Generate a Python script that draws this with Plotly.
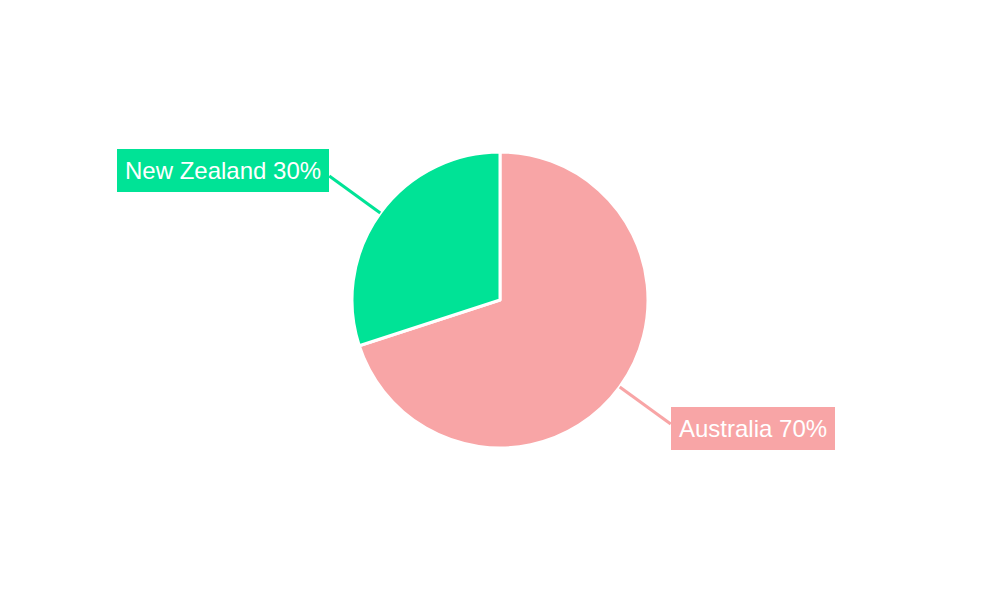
import math
import plotly.graph_objects as go

countries = ["Australia", "New Zealand"]
shares = [70, 30]
colors = ["#F8A5A6", "#00E396"]

W, H = 1000, 600
CX, CY, R = 500, 300, 148
R_OUT = 211

fig = go.Figure(go.Pie(
    labels=countries,
    values=shares,
    sort=False,
    direction="clockwise",
    rotation=0,
    marker=dict(colors=colors, line=dict(color="white", width=3)),
    textinfo="none",
    hoverinfo="label+percent",
    domain=dict(x=[0, 1], y=[0.5 - R / H, 0.5 + R / H]),
    showlegend=False,
))

total = sum(shares)
cum = 0
shapes, annotations = [], []
for name, v, c in zip(countries, shares, colors):
    mid = (cum + v / 2) / total * 2 * math.pi
    cum += v
    sx, sy = math.sin(mid), -math.cos(mid)
    hx, hy = CX + R * sx, CY + R * sy
    tx, ty = CX + R_OUT * sx, CY + R_OUT * sy
    shapes.append(dict(type="line", xref="paper", yref="paper",
                       x0=hx / W, y0=1 - hy / H, x1=tx / W, y1=1 - ty / H,
                       line=dict(color=c, width=3)))
    right = sx >= 0
    pct = round(v / total * 100)
    annotations.append(dict(
        xref="paper", yref="paper", x=tx / W, y=1 - ty / H,
        text=f"{name} {pct}%", showarrow=False,
        xanchor="left" if right else "right", yanchor="middle",
        yshift=-4 if right else 5,
        bgcolor=c, borderpad=8, borderwidth=0,
        font=dict(family="Liberation Sans, Arial, sans-serif", size=24, color="white"),
    ))

fig.update_layout(
    width=W, height=H,
    margin=dict(l=0, r=0, t=0, b=0),
    paper_bgcolor="white", plot_bgcolor="white",
    shapes=shapes, annotations=annotations,
)

fig.write_html("out.html", config={"displayModeBar": False},
               post_script="document.body.style.margin='0';")
